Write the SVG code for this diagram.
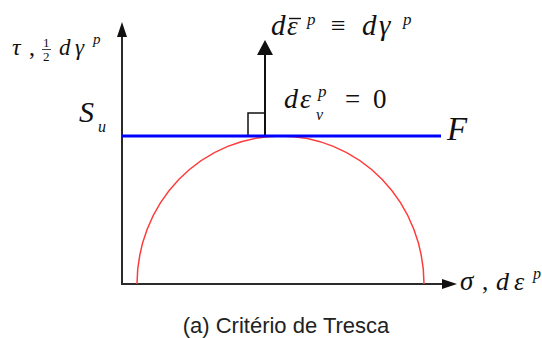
<svg xmlns="http://www.w3.org/2000/svg" width="542" height="338" viewBox="0 0 542 338">
<style>
.ax{stroke:#2a2a2a;stroke-width:2;fill:none}
.head{fill:#111;stroke:none}
.m{font-family:"Liberation Serif","Times New Roman",serif;font-style:italic;fill:#111}
.u{font-family:"Liberation Serif","Times New Roman",serif;font-style:normal;fill:#111}
.cap{font-family:"Liberation Sans",Arial,sans-serif;font-size:22px;fill:#222}
</style>
<rect width="542" height="338" fill="#fff"/>
<g id="connectors">
  <g id="y-axis">
    <line class="ax" x1="122" y1="285" x2="122" y2="34"/>
    <polygon class="head" points="122,22 117,37 127,37"/>
  </g>
  <g id="x-axis">
    <line class="ax" x1="121" y1="284" x2="444" y2="284"/>
    <polygon class="head" points="457,284 442,279 442,289"/>
  </g>
  <g id="flow-vector">
    <line class="ax" x1="265" y1="136" x2="265" y2="52" style="stroke:#111"/>
    <polygon class="head" points="265,40 257,55 273,55"/>
    <polyline points="248,136 248,113 265,113" fill="none" stroke="#111" stroke-width="1.5"/>
  </g>
</g>
<g id="mohr-circle">
  <path d="M137,284 A143.5,148 0 0 1 424,284" fill="none" stroke="#ff3b3b" stroke-width="1.5"/>
</g>
<g id="yield-line">
  <line x1="122" y1="136" x2="441" y2="136" stroke="#0000ff" stroke-width="3"/>
</g>
<g id="labels">
  <g id="label-tau">
    <text class="m" x="12" y="55" font-size="24">τ</text>
    <text class="u" x="29" y="55" font-size="24">,</text>
    <text class="u" x="43" y="47" font-size="13">1</text>
    <line x1="42" y1="49.5" x2="51" y2="49.5" stroke="#111" stroke-width="0.8"/>
    <text class="u" x="43" y="61" font-size="13">2</text>
    <text class="m" x="59" y="55" font-size="23">d</text>
    <text class="m" x="75" y="55" font-size="23">γ</text>
    <text class="m" x="93" y="44" font-size="15">p</text>
  </g>
  <g id="label-su">
    <text class="m" x="79" y="122" font-size="30">S</text>
    <text class="m" x="98" y="132" font-size="16">u</text>
  </g>
  <g id="label-flow">
    <text class="m" x="271" y="35" font-size="29">d</text>
    <text class="m" x="287" y="35" font-size="27">ε</text>
    <line x1="289" y1="18.5" x2="301" y2="18.5" stroke="#111" stroke-width="1.4"/>
    <text class="m" x="307" y="25" font-size="17">p</text>
    <text class="u" x="331" y="34" font-size="26">≡</text>
    <text class="m" x="362" y="35" font-size="29">d</text>
    <text class="m" x="379" y="35" font-size="29">γ</text>
    <text class="m" x="403" y="25" font-size="17">p</text>
  </g>
  <g id="label-vol">
    <text class="m" x="284" y="108" font-size="28">d</text>
    <text class="m" x="300" y="108" font-size="28">ε</text>
    <text class="m" x="318" y="97" font-size="17">p</text>
    <text class="m" x="316" y="120" font-size="16">v</text>
    <text class="u" x="345" y="108" font-size="27">=</text>
    <text class="u" x="373" y="108" font-size="27">0</text>
  </g>
  <g id="label-f">
    <text class="m" x="447" y="140" font-size="33">F</text>
  </g>
  <g id="label-sigma">
    <text class="m" x="460" y="290" font-size="27">σ</text>
    <text class="u" x="482" y="290" font-size="25">,</text>
    <text class="m" x="496" y="290" font-size="26">d</text>
    <text class="m" x="514" y="290" font-size="26">ε</text>
    <text class="m" x="533" y="279" font-size="16">p</text>
  </g>
  <text id="caption" class="cap" x="286" y="333" text-anchor="middle">(a) Critério de Tresca</text>
</g>
</svg>
